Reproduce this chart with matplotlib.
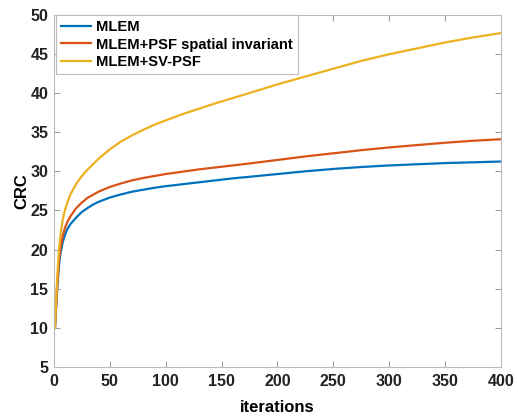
import matplotlib
matplotlib.use("Agg")
import matplotlib.pyplot as plt

iters = [1, 2, 3, 4, 5, 6, 8, 10, 12, 15, 20, 25, 30, 35, 40, 50, 60, 70, 80,
         90, 100, 115, 130, 145, 160, 175, 200, 225, 250, 275, 300, 325, 350,
         375, 400]

# CRC values per method
crc_mlem = [10.0, 12.5, 15.0, 17.0, 18.5, 19.6, 21.0, 21.9, 22.6, 23.3, 24.1,
            24.8, 25.3, 25.75, 26.1, 26.65, 27.05, 27.4, 27.65, 27.9, 28.1,
            28.35, 28.6, 28.85, 29.1, 29.3, 29.65, 30.0, 30.3, 30.55, 30.75,
            30.9, 31.05, 31.15, 31.25]
crc_psf = [10.0, 12.8, 15.5, 17.6, 19.2, 20.3, 21.8, 22.8, 23.5, 24.3, 25.3,
           26.0, 26.6, 27.0, 27.4, 28.0, 28.45, 28.85, 29.15, 29.4, 29.65,
           29.95, 30.25, 30.5, 30.75, 31.0, 31.45, 31.9, 32.3, 32.7, 33.05,
           33.35, 33.65, 33.9, 34.1]
crc_svpsf = [10.0, 13.5, 16.5, 18.8, 20.6, 22.0, 23.9, 25.1, 26.0, 27.1, 28.4,
             29.4, 30.2, 30.9, 31.6, 32.8, 33.8, 34.6, 35.3, 35.95, 36.5,
             37.3, 38.0, 38.7, 39.35, 40.0, 41.1, 42.1, 43.1, 44.1, 44.95,
             45.7, 46.45, 47.1, 47.65]

labels = ["MLEM", "MLEM+PSF spatial invariant", "MLEM+SV-PSF"]
colors = ["#0072BD", "#D95319", "#EDB120"]

plt.rcParams['font.family'] = ['Liberation Sans', 'DejaVu Sans']

fig = plt.figure(figsize=(5.18, 4.2), dpi=100)
ax = fig.add_axes([0.104, 0.126, 0.863, 0.839])

for ys, lab, c in zip([crc_mlem, crc_psf, crc_svpsf], labels, colors):
    ax.plot(iters, ys, color=c, lw=1.6, label=lab)

ax.set_xlim(0, 400)
ax.set_ylim(5, 50)
ax.set_xticks(range(0, 401, 50))
ax.set_yticks(range(5, 51, 5))
ax.tick_params(direction='in', length=4, width=0.6, color='#888888',
               top=True, right=True, labelsize=11.5, labelcolor='#222222')
ax.tick_params(axis='x', pad=5)
ax.tick_params(axis='y', pad=4)
for lbl in ax.get_xticklabels() + ax.get_yticklabels():
    lbl.set_fontweight('bold')
for sp in ax.spines.values():
    sp.set_color('#bbbbbb')
    sp.set_linewidth(0.8)

ax.set_xlabel("iterations", fontsize=12, fontweight='bold', labelpad=8)
ax.set_ylabel("CRC", fontsize=12, fontweight='bold', labelpad=1)

leg = ax.legend(loc='upper left', bbox_to_anchor=(0.005, 1.0),
                prop={'weight': 'bold', 'size': 10.6},
                fancybox=False, framealpha=1, edgecolor='#bbbbbb',
                borderaxespad=0.0, handlelength=2.0, handletextpad=0.35,
                borderpad=0.35, labelspacing=0.25)
leg.get_frame().set_linewidth(0.8)

fig.savefig("out.png", dpi=100)
